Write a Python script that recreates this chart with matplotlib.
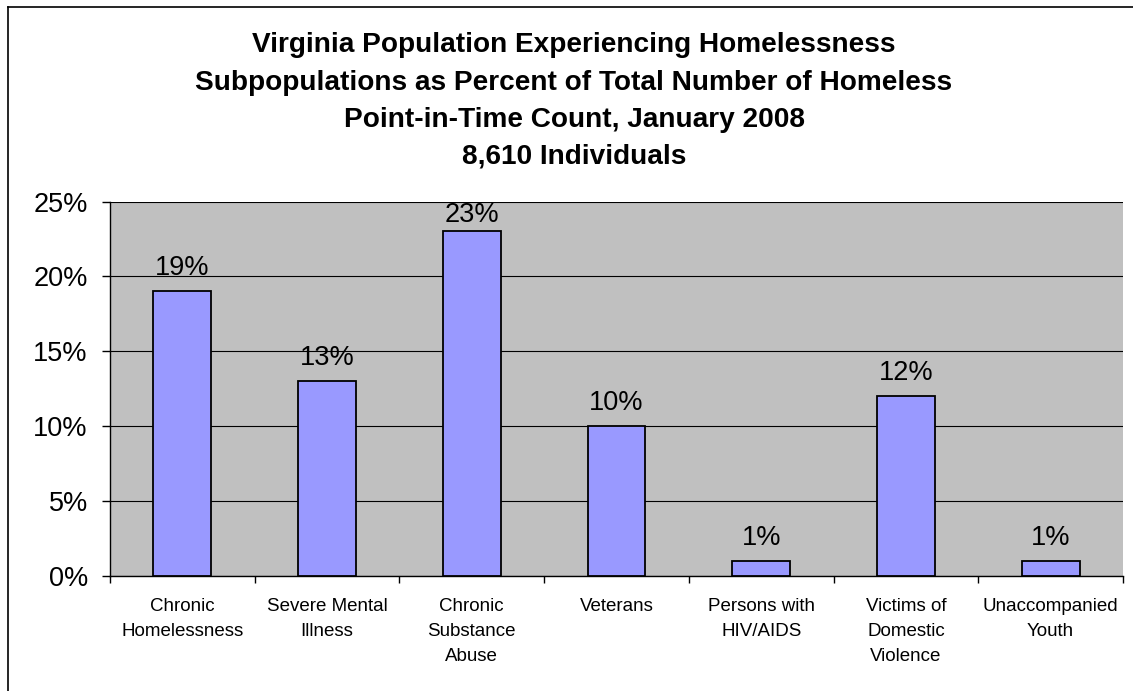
import matplotlib
matplotlib.use("Agg")
import matplotlib.pyplot as plt
from matplotlib.lines import Line2D
import numpy as np

categories = ["Chronic\nHomelessness", "Severe Mental\nIllness", "Chronic\nSubstance\nAbuse",
              "Veterans", "Persons with\nHIV/AIDS", "Victims of\nDomestic\nViolence",
              "Unaccompanied\nYouth"]
values = [19, 13, 23, 10, 1, 12, 1]
yticks = [0, 5, 10, 15, 20, 25]
title_lines = ["Virginia Population Experiencing Homelessness",
               "Subpopulations as Percent of Total Number of Homeless",
               "Point-in-Time Count, January 2008",
               "8,610 Individuals"]

plt.rcParams['font.family'] = ['Liberation Sans', 'DejaVu Sans']

W, H = 1133, 691
fig = plt.figure(figsize=(W / 100, H / 100), dpi=100)
ax_bottom, ax_top = 576, 201.5
ax = fig.add_axes([110 / W, 1 - ax_bottom / H, (1123 - 110) / W, (ax_bottom - ax_top) / H])
ax.set_facecolor('#C0C0C0')

ymax = 25
px_per_unit = (ax_bottom - ax_top) / ymax

x = np.arange(len(categories))
ax.bar(x, values, width=0.4, color='#9999FF', edgecolor='black', linewidth=1.3, zorder=3)
for xi, v in zip(x, values):
    # keep labels inside the plot area (as the original does for the tallest bar)
    avail_pt = (ymax - v) * px_per_unit * 0.72
    off = min(7.5, avail_pt - 19)
    ax.annotate(f"{v}%", (xi, v), xytext=(0, off), textcoords='offset points',
                ha='center', va='bottom', fontsize=19.5, zorder=4)

ax.set_xlim(-0.5, len(categories) - 0.5)
ax.set_ylim(0, ymax)
ax.set_yticks(yticks)
ax.set_yticklabels([f"{t}%" for t in yticks], fontsize=19.5)
ax.yaxis.grid(True, color='black', linewidth=0.8, zorder=1)
ax.set_axisbelow(True)

ax.set_xticks(np.arange(len(categories) + 1) - 0.5)
ax.set_xticklabels([])
ax.set_xticks(x, minor=True)
ax.set_xticklabels(categories, minor=True, fontsize=13.5, linespacing=1.6, va='top')
ax.tick_params(axis='x', which='minor', length=0, pad=16)
ax.tick_params(axis='x', which='major', length=5, width=1, direction='out')
ax.tick_params(axis='y', length=6, width=1, direction='out', pad=10)

for s in ['top', 'right']:
    ax.spines[s].set_visible(False)
ax.spines['left'].set_linewidth(1)
ax.spines['bottom'].set_linewidth(1)

ys = [45, 83, 120, 157]
for line, yy in zip(title_lines, ys):
    fig.text(574 / W, 1 - yy / H, line, ha='center', va='center', fontsize=20.2, fontweight='bold')

fig.add_artist(Line2D([7.5 / W, 7.5 / W], [0, 1 - 6.5 / H], color='black', linewidth=1.2, transform=fig.transFigure))
fig.add_artist(Line2D([7.5 / W, 1], [1 - 6.5 / H, 1 - 6.5 / H], color='black', linewidth=1.2, transform=fig.transFigure))

fig.savefig("out.png", dpi=100)
